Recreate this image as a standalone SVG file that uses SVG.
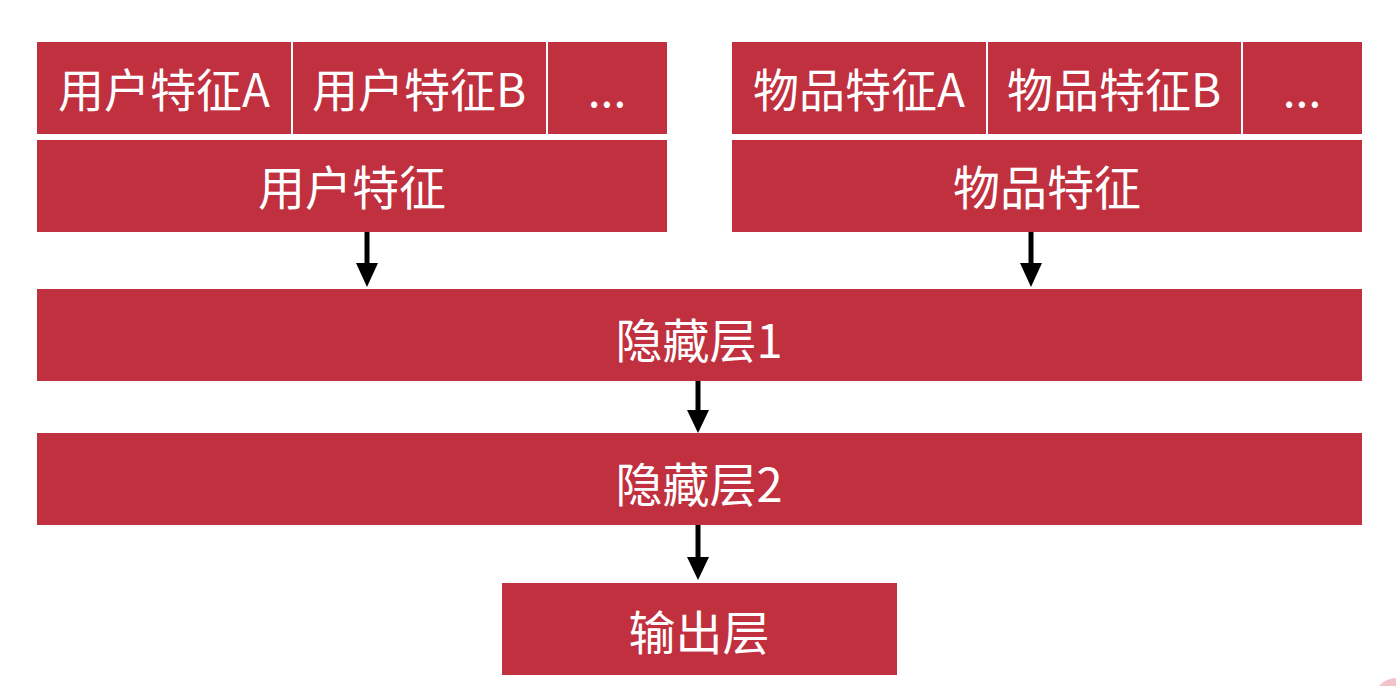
<svg xmlns="http://www.w3.org/2000/svg" width="1396" height="686" viewBox="0 0 1396 686">
<style>
.box{fill:#c0303f}
.t{fill:#ffffff;font-family:"Noto Sans CJK SC","Noto Sans",sans-serif;text-anchor:middle;dominant-baseline:central}
.s{font-size:46px}
.l{font-size:47px}
.div{stroke:#ffffff;stroke-width:2}
.shaft{stroke:#000000;stroke-width:5;fill:none}
.head{fill:#000000}
</style>
<rect width="1396" height="686" fill="#ffffff"/>
<g id="user-feat-row">
<rect class="box" x="37" y="42" width="630" height="92"/>
<line class="div" x1="292" y1="42" x2="292" y2="134"/>
<line class="div" x1="547" y1="42" x2="547" y2="134"/>
<text class="t s" x="164" y="87">用户特征A</text>
<text class="t s" x="419" y="87">用户特征B</text>
<text class="t s" x="607" y="87">...</text>
</g>
<g id="user-feat">
<rect class="box" x="37" y="140" width="630" height="92"/>
<text class="t l" x="352" y="184">用户特征</text>
</g>
<g id="item-feat-row">
<rect class="box" x="732" y="42" width="630" height="92"/>
<line class="div" x1="987" y1="42" x2="987" y2="134"/>
<line class="div" x1="1242" y1="42" x2="1242" y2="134"/>
<text class="t s" x="859" y="87">物品特征A</text>
<text class="t s" x="1114" y="87">物品特征B</text>
<text class="t s" x="1302" y="87">...</text>
</g>
<g id="item-feat">
<rect class="box" x="732" y="140" width="630" height="92"/>
<text class="t l" x="1047" y="184">物品特征</text>
</g>
<g id="hidden1">
<rect class="box" x="37" y="289" width="1325" height="92"/>
<text class="t l" x="699" y="337">隐藏层1</text>
</g>
<g id="hidden2">
<rect class="box" x="37" y="433" width="1325" height="92"/>
<text class="t l" x="699" y="481">隐藏层2</text>
</g>
<g id="output">
<rect class="box" x="502" y="583" width="395" height="92"/>
<text class="t l" x="699" y="629">输出层</text>
</g>
<g id="connectors">
<line class="shaft" x1="367" y1="232" x2="367" y2="265"/>
<polygon class="head" points="356,263 378,263 367,287"/>
<line class="shaft" x1="1031" y1="232" x2="1031" y2="265"/>
<polygon class="head" points="1020,263 1042,263 1031,287"/>
<line class="shaft" x1="698" y1="381" x2="698" y2="412"/>
<polygon class="head" points="687,410 709,410 698,433"/>
<line class="shaft" x1="698" y1="525" x2="698" y2="559"/>
<polygon class="head" points="687,557 709,557 698,580"/>
</g>
<circle cx="1396" cy="700" r="22" fill="#f0c4c9"/>
</svg>
